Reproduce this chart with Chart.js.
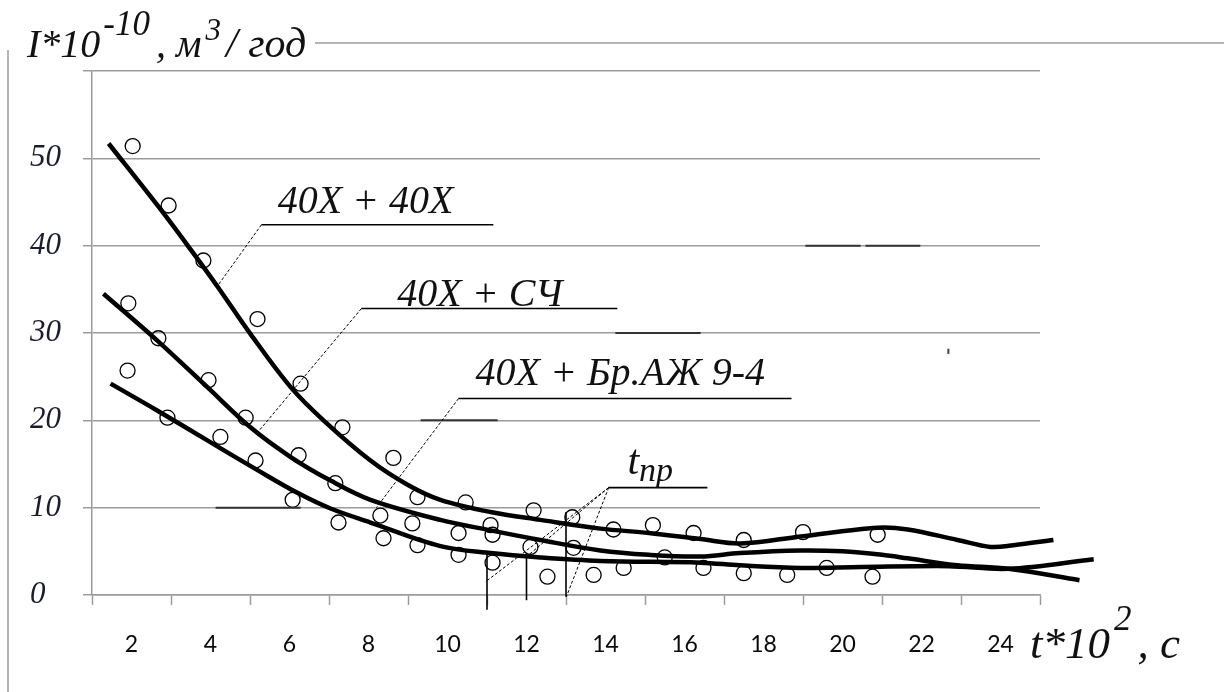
<!DOCTYPE html>
<html>
<head>
<meta charset="utf-8">
<script src="https://cdn.jsdelivr.net/npm/chart.js@4/dist/chart.umd.min.js"></script>
<style>
  body { margin: 0; background: #fff; }
  #wrap { width: 1224px; height: 692px; position: relative; }
</style>
</head>
<body>
<div id="wrap"><canvas id="wear"></canvas></div>
<script>
// wear rate I*10^-10 (m3/h) against time t*10^2 (s)
// fitted curves
var curve1T = [1.42, 2.66, 3.49, 4.18, 5.01, 6.03, 6.86, 8.05, 9.0, 9.82, 11.09, 12.35, 13.87, 15.1, 16.41, 17.42, 18.94, 20.89, 21.65, 22.91, 23.75, 24.33, 25.34];
var curve1I = [51.7, 44.6, 39.6, 35.3, 29.9, 23.8, 20.0, 15.4, 12.6, 10.9, 9.5, 8.6, 7.6, 7.1, 6.4, 5.9, 6.7, 7.7, 7.5, 6.3, 5.5, 5.7, 6.3];

var curve2T = [1.29, 2.66, 3.92, 5.01, 6.03, 7.04, 8.05, 9.82, 11.09, 12.35, 13.87, 15.1, 16.41, 17.4, 18.94, 20.0, 21.0, 21.65, 22.91, 24.2, 26.0];
var curve2I = [34.5, 29.1, 23.8, 19.2, 15.8, 13.1, 10.9, 8.6, 7.4, 6.3, 5.1, 4.6, 4.4, 4.8, 5.1, 5.0, 4.6, 4.2, 3.4, 3.0, 1.7];

var curve3T = [1.47, 2.66, 3.92, 5.19, 6.2, 7.04, 8.05, 9.82, 11.09, 12.35, 13.87, 16.41, 17.4, 18.94, 20.46, 22.7, 24.2, 26.36];
var curve3I = [24.2, 21.1, 17.7, 14.3, 11.7, 9.9, 8.3, 5.6, 4.8, 4.3, 3.9, 3.7, 3.4, 3.1, 3.2, 3.3, 3.0, 4.1];

// measured points (open circles)
var pointT = [2.03, 2.94, 3.82, 1.92, 5.19, 2.68, 1.90, 3.95, 6.28, 2.91, 4.89, 7.34, 4.25, 5.14, 6.23, 7.16, 6.08, 7.24,
              8.63, 9.24, 10.46, 12.18, 8.30, 9.11, 11.09, 13.16, 8.38, 9.24, 10.28, 10.28, 11.14, 12.10, 11.14, 13.19,
              12.53, 13.70, 14.20, 15.20, 16.23, 17.50, 19.00, 14.46, 15.50, 16.48, 17.50, 18.60, 19.60, 20.89, 20.76];
var pointI = [51.4, 44.6, 38.3, 33.4, 31.6, 29.4, 25.7, 24.6, 24.2, 20.3, 20.3, 19.2, 18.1, 15.4, 16.0, 12.8, 10.9, 8.3,
              15.7, 11.2, 10.6, 9.7, 9.1, 8.2, 8.0, 8.9, 6.5, 5.7, 7.1, 4.6, 6.9, 5.5, 3.7, 5.4,
              2.1, 2.3, 7.5, 8.0, 7.1, 6.3, 7.2, 3.1, 4.3, 3.1, 2.5, 2.3, 3.1, 6.9, 2.1];

// axes
var xLabels = [2, 4, 6, 8, 10, 12, 14, 16, 18, 20, 22, 24];
var xMarks = [1, 3, 5, 7, 9, 11, 13, 15, 17, 19, 21, 23, 25];
var yLabels = [0, 10, 20, 30, 40, 50];

function pairs(xs, ys) {
    return xs.map(function (x, i) { return { x: x, y: ys[i] }; });
}

var SERIF = '"Liberation Serif", "Times New Roman", serif';
var GRID = '#9c9c9c';

function curve(name, t, v) {
    return {
        type: 'line', label: name, data: pairs(t, v),
        borderColor: '#000', borderWidth: 4.5, pointRadius: 0,
        tension: 0.35, clip: false, order: 0
    };
}

// labels, leader lines and the hand-drawn extras
var notes = {
    id: 'notes',
    afterDatasetsDraw: function (chart) {
        var c = chart.ctx, xs = chart.scales.x, ys = chart.scales.y;
        function X(v) { return xs.getPixelForValue(v); }
        function Y(v) { return ys.getPixelForValue(v); }
        function seg(a, b, w, dash, col) {
            c.beginPath();
            c.setLineDash(dash || []);
            c.lineWidth = w;
            c.strokeStyle = col || '#000';
            c.moveTo(X(a[0]), Y(a[1]));
            c.lineTo(X(b[0]), Y(b[1]));
            c.stroke();
        }
        function txt(s, t, v, size) {
            c.font = 'italic ' + size + 'px ' + SERIF;
            c.fillStyle = '#111';
            c.textBaseline = 'alphabetic';
            c.fillText(s, X(t), Y(v));
        }
        c.save();
        // darker pieces on grid lines
        seg([4.13, 10], [6.28, 10], 2, null, '#333');
        seg([9.32, 20], [11.27, 20], 2, null, '#333');
        seg([14.25, 30], [16.41, 30], 2, null, '#333');
        seg([19.06, 40], [20.46, 40], 2, null, '#333');
        seg([20.58, 40], [21.97, 40], 2, null, '#333');
        seg([22.68, 28.2], [22.68, 27.6], 2, null, '#444');

        // 40X + 40X
        seg([5.29, 42.4], [11.16, 42.4], 1.6);
        seg([5.29, 42.4], [4.18, 35.4], 1, [3, 2]);
        txt('40Х + 40Х', 5.7, 43.7, 40);
        // 40X + СЧ
        seg([7.82, 32.8], [14.3, 32.8], 1.6);
        seg([7.82, 32.8], [5.19, 18.6], 1, [3, 2]);
        txt('40Х + СЧ', 8.73, 33.1, 40);
        // 40X + Бр.АЖ 9-4
        seg([10.28, 22.5], [18.71, 22.5], 1.6);
        seg([10.28, 22.5], [8.2, 10.0], 1, [3, 2]);
        txt('40Х + Бр.АЖ 9-4', 10.71, 24.0, 40);

        // t_пр with its rays and the three marks
        seg([14.08, 12.3], [16.58, 12.3], 1.6);
        seg([14.08, 12.3], [10.96, 1.5], 1, [3, 2]);
        seg([14.08, 12.3], [12.03, 4.5], 1, [3, 2]);
        seg([14.08, 12.3], [13.01, -0.2], 1, [3, 2]);
        seg([11, 4.8], [11, -1.7], 1.6);
        seg([12, 4.8], [12, -0.6], 1.6);
        seg([13, 9.5], [13, -0.2], 1.6);
        txt('t', 14.56, 13.9, 42);
        txt('пр', 14.85, 13.1, 34);
        c.restore();
    },
    afterDraw: function (chart) {
        var c = chart.ctx;
        c.save();
        c.fillStyle = '#111';
        c.textBaseline = 'alphabetic';
        // write pieces one after another, some raised
        function run(x, parts) {
            parts.forEach(function (p) {
                c.font = 'italic ' + p[1] + 'px ' + SERIF;
                c.fillText(p[0], x + (p[3] || 0), p[2]);
                x += c.measureText(p[0]).width + (p[3] || 0);
            });
        }
        // y title
        run(27, [['I*10', 40, 57], ['-10', 35, 35, 3], [', м', 40, 57, 6], ['3', 31, 40, 4], ['/ год', 42, 57, 5]]);
        // x title
        run(1030, [['t*10', 45, 658], ['2', 35, 630, 4], [', с', 45, 658, 6]]);
        // frame lines
        c.strokeStyle = GRID;
        c.lineWidth = 1.5;
        c.beginPath();
        c.moveTo(315, 43); c.lineTo(1224, 43);
        c.moveTo(8, 50); c.lineTo(8, 692);
        c.stroke();
        c.restore();
    }
};

new Chart('wear', {
    data: {
        datasets: [
            curve('40Х + 40Х', curve1T, curve1I),
            curve('40Х + СЧ', curve2T, curve2I),
            curve('40Х + Бр.АЖ 9-4', curve3T, curve3I),
            {
                type: 'scatter', label: 'points', data: pairs(pointT, pointI),
                pointRadius: 7.5, pointBorderWidth: 1.3, pointBorderColor: '#000',
                pointBackgroundColor: 'rgba(0,0,0,0)', order: 1
            }
        ]
    },
    options: {
        responsive: true,
        maintainAspectRatio: false,
        animation: false,
        layout: { padding: { top: 71, left: 30, right: 184, bottom: 0 } },
        plugins: { legend: { display: false }, tooltip: { enabled: false } },
        scales: {
            x: {
                type: 'linear', min: 1, max: 25,
                afterBuildTicks: function (s) {
                    s.ticks = xMarks.concat(xLabels).sort(function (a, b) { return a - b; })
                        .map(function (v) { return { value: v }; });
                },
                afterFit: function (s) { s.height = 97; },
                grid: {
                    drawOnChartArea: false, tickLength: 10, tickWidth: 1.5,
                    tickColor: function (ctx) {
                        return ctx.tick && xMarks.indexOf(ctx.tick.value) >= 0 ? GRID : 'rgba(0,0,0,0)';
                    }
                },
                border: { color: GRID, width: 1.5 },
                ticks: {
                    autoSkip: false, maxRotation: 0, padding: 26,
                    color: '#0a0a0a', font: { family: 'Lato', size: 23 },
                    callback: function (v) { return xLabels.indexOf(v) >= 0 ? String(v) : ''; }
                }
            },
            y: {
                min: 0, max: 60,
                afterBuildTicks: function (s) {
                    s.ticks = yLabels.concat([60]).map(function (v) { return { value: v }; });
                },
                afterFit: function (s) { s.width = 62; },
                grid: { color: GRID, lineWidth: 1.5, tickLength: 9 },
                border: { color: GRID, width: 1.5 },
                ticks: {
                    crossAlign: 'far', color: '#1b1b2e',
                    font: { family: SERIF, size: 31, style: 'italic' },
                    callback: function (v) { return yLabels.indexOf(v) >= 0 ? String(v) : ''; }
                }
            }
        }
    },
    plugins: [notes]
});
</script>
</body>
</html>
